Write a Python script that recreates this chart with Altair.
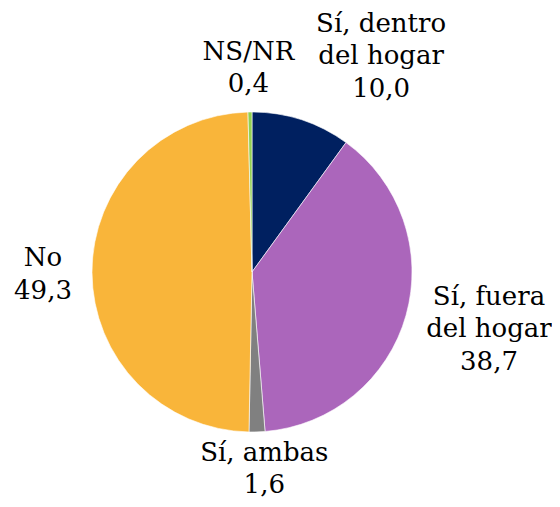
import altair as alt
import pandas as pd

# ---- data ----
categories = ["Sí, dentro del hogar", "Sí, fuera del hogar", "Sí, ambas", "No", "NS/NR"]
label_names = ["Sí, dentro\ndel hogar", "Sí, fuera\ndel hogar", "Sí, ambas", "No", "NS/NR"]
values = [10.0, 38.7, 1.6, 49.3, 0.4]
colors = ["#002060", "#AB66BB", "#808080", "#F9B53A", "#92D050"]

value_text = [f"{v:.1f}".replace(".", ",") for v in values]
df = pd.DataFrame({
    "idx": list(range(len(categories))),
    "cat": categories,
    "value": values,
    "label": [f"{n}\n{t}" for n, t in zip(label_names, value_text)],
})

# ---- layout / style ----
CX, CY, R = 244, 264, 160
FONT = "DejaVu Serif"
FS = 26
LH = 32.5
# (radius, dx, dy) per label, in category order (dy of the block centre)
placements = [
    (230, 58, 3),
    (242, 4, -8),
    (200, 6, -3),
    (209, 0, 2),
    (204, -1, 0),
]

base = alt.Chart(df).encode(
    theta=alt.Theta("value:Q", stack=True),
    order=alt.Order("idx:Q"),
    detail=alt.Detail("cat:N"),
)

pie = base.mark_arc(outerRadius=R, stroke="white", strokeWidth=0.6).encode(
    color=alt.Color("cat:N", scale=alt.Scale(domain=categories, range=colors), legend=None),
    x=alt.value(CX),
    y=alt.value(CY),
)

layers = [pie]
for i, (r, dx, dy) in enumerate(placements):
    n_lines = df["label"][i].count("\n") + 1
    t = base.transform_calculate(
        lbl=f"datum.idx === {i} ? datum.label : ''"
    ).mark_text(
        radius=r, dx=dx, dy=dy - (n_lines - 1) * LH / 2, font=FONT, fontSize=FS,
        lineBreak="\n", lineHeight=LH, color="black", align="center", baseline="middle",
    ).encode(
        text="lbl:N",
        x=alt.value(CX),
        y=alt.value(CY),
    )
    layers.append(t)

chart = alt.layer(*layers).properties(
    width=544, height=491,
    autosize=alt.AutoSizeParams(type="none"),
    padding=0,
).configure_view(stroke=None)

chart.save("out.html", embed_options={"renderer": "svg", "actions": False})
